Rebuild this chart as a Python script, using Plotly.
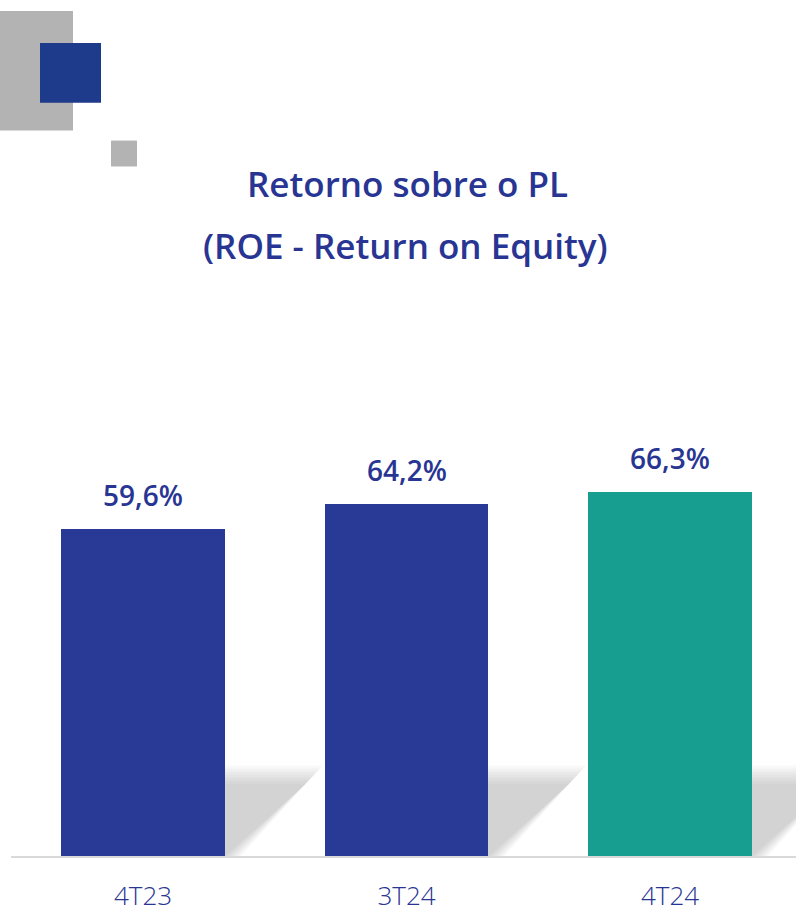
import plotly.graph_objects as go

categories = ["4T23", "3T24", "4T24"]
roe_values = [59.6, 64.2, 66.3]
value_labels = ["59,6%", "64,2%", "66,3%"]
bar_colors = ["#283996", "#283996", "#179E91"]

W, H = 796, 913
ML, MR, MT, MB = 11, 0, 300, 55
PW, PH = W - ML - MR, H - MT - MB
X_RANGE = [-0.501, -0.501 + PW / 263.5]
Y_RANGE = [0, PH / 5.503]
BAR_W = 0.622

def px_x(px):
    return (px - ML) / PW

def px_y(py):
    return (H - MB - py) / PH

xs = list(range(len(categories)))

fig = go.Figure()
fig.add_trace(go.Bar(x=xs, y=roe_values, width=BAR_W, marker=dict(color=bar_colors, line=dict(width=0)),
                     hoverinfo="skip"))

shapes = []
# decorative squares
shapes.append(dict(type="rect", xref="paper", yref="paper", x0=px_x(0), x1=px_x(73), y0=px_y(130), y1=px_y(10),
                   fillcolor="#B3B3B3", line=dict(width=0), layer="above"))
shapes.append(dict(type="rect", xref="paper", yref="paper", x0=px_x(40), x1=px_x(101), y0=px_y(102), y1=px_y(42),
                   fillcolor="#1E3A8A", line=dict(width=0), layer="above"))
shapes.append(dict(type="rect", xref="paper", yref="paper", x0=px_x(111), x1=px_x(137), y0=px_y(166), y1=px_y(140),
                   fillcolor="#B3B3B3", line=dict(width=0), layer="above"))

# floor shadows behind bars
shadow_top = 16.5
for i in xs:
    r = i + BAR_W / 2
    for k in range(7):
        d = k * 0.01
        top = shadow_top - k * 0.55
        path = (f"M {r - 0.05},0 L {r + 0.06 - d},0 L {r + 0.37 - d},{top} "
                f"L {r - 0.05},{top} Z")
        shapes.append(dict(type="path", xref="x", yref="y", path=path,
                           fillcolor="rgba(130,130,130,0.06)", line=dict(width=0), layer="below"))

title_font = dict(family="Open Sans", size=35, color="#283593", weight=600)
annotations = []
annotations.append(dict(xref="paper", yref="paper", x=px_x(407), y=px_y(183), text="Retorno sobre o PL",
                        showarrow=False, xanchor="center", yanchor="middle", font=title_font))
annotations.append(dict(xref="paper", yref="paper", x=px_x(405), y=px_y(245),
                        text="(ROE - Return on Equity)",
                        showarrow=False, xanchor="center", yanchor="middle", font=title_font))
for i, v, t in zip(xs, roe_values, value_labels):
    annotations.append(dict(x=i, y=v, text=t, showarrow=False, xanchor="center", yanchor="middle",
                            yshift=34, font=dict(family="Open Sans", size=28, color="#283593", weight=600)))

fig.update_layout(
    width=W, height=H,
    margin=dict(l=ML, r=MR, t=MT, b=MB, pad=0),
    paper_bgcolor="white", plot_bgcolor="rgba(0,0,0,0)",
    showlegend=False, bargap=0,
    shapes=shapes, annotations=annotations,
    xaxis=dict(range=X_RANGE, tickvals=xs, ticktext=categories, showgrid=False, zeroline=False,
               showline=True, linecolor="#D9D9D9", linewidth=2, ticks="", ticklabelstandoff=16,
               tickfont=dict(family="Open Sans", size=26, color="#283593", weight=300), fixedrange=True),
    yaxis=dict(range=Y_RANGE, visible=False, showgrid=False, zeroline=False, fixedrange=True),
)

fig.write_html("out.html", config={"displayModeBar": False},
               post_script="document.body.style.margin='0';document.body.style.overflow='hidden';")
